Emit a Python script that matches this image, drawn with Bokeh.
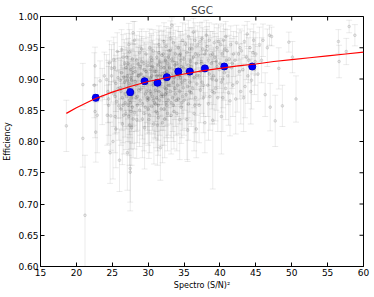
import numpy as np
from bokeh.plotting import figure
from bokeh.models import FixedTicker, NumeralTickFormatter
from bokeh.embed import file_html
from bokeh.resources import INLINE

title_text = "SGC"
x_label = "Spectro (S/N)²"
y_label = "Efficiency"
x_ticks = [15, 20, 25, 30, 35, 40, 45, 50, 55, 60]
y_ticks = [0.60, 0.65, 0.70, 0.75, 0.80, 0.85, 0.90, 0.95, 1.00]
x_min, x_max = 15, 60
y_min, y_max = 0.60, 1.00

# binned (blue) points
bin_x = [22.7, 27.5, 29.5, 31.3, 32.6, 34.2, 35.8, 37.9, 40.6, 44.5]
bin_y = [0.870, 0.879, 0.8965, 0.894, 0.903, 0.912, 0.912, 0.917, 0.920, 0.920]
bin_err = [0.005, 0.005, 0.004, 0.004, 0.004, 0.004, 0.004, 0.004, 0.004, 0.004]

# fit curve (red)
fit_x = [18.6, 20.0, 22.5, 25.0, 27.5, 30.0, 32.5, 35.0, 37.5, 40.0,
         42.5, 45.0, 47.5, 50.0, 52.5, 55.0, 57.5, 60.0]
fit_y = [0.845, 0.854, 0.868, 0.879, 0.888, 0.896, 0.902, 0.908, 0.913, 0.917,
         0.921, 0.924, 0.928, 0.931, 0.934, 0.937, 0.940, 0.943]

# individual plates (grey)
gray_x = [
    18.6, 20.9, 20.9, 21.2,
    22.5, 22.6, 22.6, 22.7, 22.9, 23.3, 23.6, 23.9,
    24.2, 24.4, 24.5, 24.6, 24.7, 24.8, 24.9, 24.5, 24.3, 24.9,
    25.1, 25.2, 25.3, 25.4, 25.5, 25.6, 25.7, 25.8, 25.9, 25.2, 25.5, 25.8, 26.0, 25.4,
    26.1, 26.2, 26.3, 26.4, 26.5, 26.6, 26.7, 26.8, 26.9, 26.2, 26.4, 26.6, 26.8, 26.3, 26.5, 26.7, 26.9, 26.1,
    27.0, 27.1, 27.1, 27.2, 27.2, 27.3, 27.3, 27.4, 27.4, 27.5,
    27.5, 27.5, 27.6, 27.6, 27.7, 27.7, 27.8, 27.8, 27.9, 27.9,
    27.0, 27.2, 27.4, 27.6, 27.8, 27.3, 27.5, 27.7, 27.1, 27.9,
    28.0, 28.1, 28.2, 28.3, 28.4, 28.5, 28.6, 28.7, 28.8, 28.9,
    28.0, 28.2, 28.4, 28.6, 28.8, 28.1, 28.3, 28.5, 28.7, 28.9,
    29.0, 29.1, 29.2, 29.3, 29.4, 29.5, 29.6, 29.7, 29.8, 29.9,
    29.0, 29.2, 29.4, 29.6, 29.8, 29.1, 29.3, 29.5, 29.7, 29.9,
    30.0, 30.1, 30.1, 30.2, 30.3, 30.3, 30.4, 30.5, 30.5, 30.6,
    30.7, 30.7, 30.8, 30.9, 30.9, 30.0, 30.2, 30.4, 30.6, 30.8, 30.1, 30.5, 30.7, 30.3,
    31.0, 31.1, 31.1, 31.2, 31.2, 31.3, 31.3, 31.4, 31.4, 31.5,
    31.5, 31.6, 31.6, 31.7, 31.7, 31.8, 31.8, 31.9, 31.9,
    31.0, 31.2, 31.4, 31.6, 31.8, 31.5, 31.3,
    32.0, 32.1, 32.1, 32.2, 32.2, 32.3, 32.3, 32.4, 32.4, 32.5,
    32.5, 32.6, 32.6, 32.7, 32.7, 32.8, 32.8, 32.9, 32.9,
    32.0, 32.2, 32.4, 32.6, 32.8, 32.5, 32.3,
    33.0, 33.1, 33.1, 33.2, 33.3, 33.3, 33.4, 33.5, 33.5, 33.6,
    33.7, 33.7, 33.8, 33.9, 33.9, 33.0, 33.2, 33.4, 33.6, 33.8, 33.1, 33.5, 33.7, 33.3,
    34.0, 34.1, 34.2, 34.2, 34.3, 34.4, 34.4, 34.5, 34.6, 34.6,
    34.7, 34.8, 34.8, 34.9, 34.0, 34.3, 34.5, 34.7, 34.9, 34.1, 34.6, 34.4,
    35.0, 35.1, 35.2, 35.3, 35.3, 35.4, 35.5, 35.6, 35.6, 35.7,
    35.8, 35.8, 35.9, 35.0, 35.2, 35.4, 35.6, 35.8, 35.5, 35.9,
    36.0, 36.1, 36.2, 36.3, 36.4, 36.5, 36.6, 36.7, 36.8, 36.9,
    36.0, 36.2, 36.4, 36.6, 36.8, 36.3, 36.5, 36.7,
    37.0, 37.1, 37.2, 37.3, 37.4, 37.5, 37.6, 37.7, 37.8, 37.9,
    37.1, 37.3, 37.5, 37.7, 37.9, 37.4,
    38.0, 38.1, 38.3, 38.4, 38.5, 38.6, 38.8, 38.9, 38.2, 38.4, 38.7, 38.5, 38.9, 38.1,
    39.0, 39.1, 39.2, 39.4, 39.5, 39.6, 39.7, 39.9, 39.3, 39.5, 39.8, 39.0, 39.6, 39.2,
    40.0, 40.1, 40.2, 40.3, 40.4, 40.5, 40.6, 40.7, 40.8, 40.9, 40.2, 40.5, 40.8, 40.4,
    41.0, 41.1, 41.3, 41.4, 41.5, 41.6, 41.8, 41.9, 41.2, 41.7,
    42.1, 42.3, 42.4, 42.6, 42.7, 42.9, 42.2, 42.8,
    43.0, 43.2, 43.4, 43.5, 43.7, 43.9, 43.3, 43.8,
    44.0, 44.2, 44.4, 44.6, 44.8, 44.3, 44.7, 44.9,
    45.0, 45.3, 45.5, 45.8, 46.0, 46.3, 46.6, 46.9,
    47.0, 47.2, 47.7, 48.2, 48.7, 49.6, 50.1, 50.6, 56.5, 56.6, 57.6, 58.0, 58.8,
]
gray_y = [
    0.825, 0.891, 0.805, 0.682,
    0.890, 0.921, 0.848, 0.815, 0.842, 0.897, 0.872, 0.905,
    0.899, 0.880, 0.858, 0.926, 0.782, 0.841, 0.905, 0.868, 0.842, 0.917,
    0.800, 0.876, 0.918, 0.840, 0.893, 0.864, 0.944, 0.885, 0.857, 0.931, 0.820, 0.902, 0.770, 0.872,
    0.886, 0.852, 0.910, 0.870, 0.935, 0.842, 0.895, 0.862, 0.918, 0.880, 0.828, 0.903, 0.876, 0.947, 0.858, 0.925, 0.845, 0.898,
    0.872, 0.782, 0.905, 0.858, 0.925, 0.840, 0.893, 0.866, 0.943, 0.751,
    0.880, 0.757, 0.915, 0.848, 0.898, 0.870, 0.932, 0.855, 0.910, 0.836,
    0.935, 0.886, 0.826, 0.902, 0.876, 0.955, 0.862, 0.822, 0.898, 0.974,
    0.918, 0.846, 0.896, 0.870, 0.930, 0.858, 0.905, 0.882, 0.942, 0.866,
    0.878, 0.912, 0.835, 0.924, 0.850, 0.962, 0.890, 0.872, 0.905, 0.920,
    0.884, 0.928, 0.860, 0.902, 0.845, 0.915, 0.876, 0.940, 0.892, 0.866,
    0.908, 0.836, 0.925, 0.855, 0.880, 0.948, 0.896, 0.822, 0.912, 0.870,
    0.925, 0.868, 0.898, 0.842, 0.915, 0.880, 0.935, 0.856, 0.905, 0.872,
    0.945, 0.890, 0.828, 0.912, 0.862, 0.852, 0.950, 0.876, 0.920, 0.895, 0.835, 0.930, 0.866, 0.902,
    0.882, 0.912, 0.848, 0.935, 0.870, 0.896, 0.826, 0.922, 0.858, 0.880,
    0.942, 0.866, 0.905, 0.790, 0.890, 0.918, 0.852, 0.876, 0.938,
    0.860, 0.905, 0.838, 0.928, 0.872, 0.955, 0.845,
    0.905, 0.872, 0.940, 0.852, 0.918, 0.886, 0.836, 0.930, 0.898, 0.862,
    0.952, 0.878, 0.912, 0.845, 0.925, 0.890, 0.866, 0.945, 0.900,
    0.830, 0.960, 0.876, 0.858, 0.935, 0.884, 0.910,
    0.918, 0.880, 0.946, 0.862, 0.905, 0.932, 0.870, 0.895, 0.958, 0.848,
    0.922, 0.885, 0.940, 0.866, 0.910, 0.890, 0.842, 0.928, 0.902, 0.876, 0.965, 0.858, 0.915, 0.986,
    0.925, 0.890, 0.950, 0.868, 0.912, 0.880, 0.938, 0.902, 0.855, 0.930,
    0.895, 0.962, 0.872, 0.918, 0.845, 0.905, 0.940, 0.862, 0.886, 0.908, 0.920, 0.835,
    0.932, 0.898, 0.956, 0.875, 0.915, 0.942, 0.888, 0.922, 0.860, 0.905,
    0.948, 0.880, 0.928, 0.866, 0.910, 0.835, 0.968, 0.895, 0.818, 0.912,
    0.920, 0.948, 0.885, 0.935, 0.902, 0.962, 0.870, 0.925, 0.892, 0.955,
    0.878, 0.912, 0.845, 0.940, 0.906, 0.975, 0.858, 0.820,
    0.938, 0.905, 0.960, 0.882, 0.928, 0.895, 0.948, 0.870, 0.918, 0.940,
    0.858, 0.912, 0.965, 0.890, 0.830, 0.925,
    0.915, 0.945, 0.890, 0.930, 0.962, 0.872, 0.925, 0.900, 0.952, 0.860, 0.938, 0.908, 0.880, 0.970,
    0.940, 0.905, 0.958, 0.885, 0.928, 0.950, 0.870, 0.915, 0.935, 0.898, 0.960, 0.834, 0.920, 0.878,
    0.925, 0.955, 0.895, 0.940, 0.870, 0.962, 0.910, 0.948, 0.885, 0.930, 0.840, 0.920, 0.968, 0.900,
    0.945, 0.905, 0.932, 0.865, 0.955, 0.918, 0.890, 0.940, 0.878, 0.925,
    0.930, 0.958, 0.895, 0.940, 0.912, 0.880, 0.868, 0.950,
    0.945, 0.915, 0.960, 0.888, 0.935, 0.905, 0.870, 0.972,
    0.930, 0.950, 0.898, 0.942, 0.915, 0.880, 0.962, 0.928,
    0.940, 0.908, 0.955, 0.930, 0.962, 0.875, 0.950, 0.970,
    0.855, 0.968, 0.833, 0.917, 0.857, 0.959, 0.935, 0.868, 0.960, 0.928, 0.944, 0.984, 0.970,
]
gray_err = [
    0.041, 0.034, 0.046, 0.096,
    0.052, 0.030, 0.042, 0.048, 0.060, 0.032, 0.045, 0.038,
    0.040, 0.050, 0.062, 0.035, 0.049, 0.055, 0.042, 0.058, 0.048, 0.038,
    0.060, 0.052, 0.040, 0.058, 0.045, 0.050, 0.030, 0.048, 0.055, 0.036, 0.062, 0.042, 0.050, 0.060,
    0.048, 0.058, 0.042, 0.052, 0.036, 0.062, 0.046, 0.055, 0.040, 0.050, 0.065, 0.044, 0.052, 0.032, 0.060, 0.038, 0.058, 0.046,
    0.052, 0.060, 0.045, 0.058, 0.040, 0.062, 0.050, 0.055, 0.036, 0.048,
    0.052, 0.068, 0.044, 0.060, 0.048, 0.054, 0.040, 0.058, 0.046, 0.062,
    0.038, 0.050, 0.064, 0.046, 0.052, 0.034, 0.056, 0.060, 0.048, 0.018,
    0.044, 0.058, 0.048, 0.054, 0.040, 0.060, 0.046, 0.050, 0.034, 0.056,
    0.052, 0.044, 0.062, 0.040, 0.058, 0.030, 0.048, 0.054, 0.046, 0.042,
    0.050, 0.040, 0.056, 0.046, 0.060, 0.044, 0.052, 0.036, 0.048, 0.054,
    0.046, 0.062, 0.040, 0.058, 0.050, 0.032, 0.048, 0.066, 0.044, 0.052,
    0.042, 0.054, 0.048, 0.060, 0.044, 0.052, 0.038, 0.058, 0.046, 0.054,
    0.034, 0.050, 0.064, 0.044, 0.056, 0.058, 0.030, 0.052, 0.042, 0.048, 0.062, 0.040, 0.054, 0.046,
    0.050, 0.044, 0.058, 0.040, 0.054, 0.048, 0.064, 0.042, 0.056, 0.052,
    0.036, 0.056, 0.046, 0.052, 0.050, 0.044, 0.058, 0.052, 0.038,
    0.056, 0.046, 0.060, 0.042, 0.054, 0.030, 0.060,
    0.046, 0.054, 0.038, 0.058, 0.044, 0.050, 0.062, 0.040, 0.048, 0.056,
    0.032, 0.052, 0.044, 0.060, 0.042, 0.050, 0.056, 0.036, 0.046,
    0.064, 0.030, 0.052, 0.058, 0.040, 0.050, 0.046,
    0.044, 0.052, 0.036, 0.056, 0.046, 0.040, 0.054, 0.048, 0.030, 0.060,
    0.042, 0.050, 0.038, 0.056, 0.044, 0.050, 0.062, 0.040, 0.046, 0.052, 0.028, 0.058, 0.044, 0.012,
    0.042, 0.050, 0.034, 0.056, 0.044, 0.052, 0.038, 0.046, 0.058, 0.040,
    0.050, 0.028, 0.054, 0.042, 0.060, 0.046, 0.036, 0.056, 0.050, 0.044, 0.040, 0.064,
    0.040, 0.048, 0.032, 0.054, 0.044, 0.036, 0.050, 0.042, 0.058, 0.046,
    0.034, 0.052, 0.040, 0.056, 0.044, 0.064, 0.026, 0.048, 0.050, 0.044,
    0.044, 0.034, 0.052, 0.040, 0.048, 0.028, 0.056, 0.042, 0.050, 0.030,
    0.054, 0.044, 0.060, 0.038, 0.046, 0.022, 0.058, 0.046,
    0.038, 0.046, 0.030, 0.052, 0.040, 0.050, 0.034, 0.056, 0.044, 0.036,
    0.060, 0.044, 0.026, 0.050, 0.048, 0.040,
    0.044, 0.034, 0.050, 0.040, 0.028, 0.054, 0.042, 0.048, 0.032, 0.058, 0.038, 0.046, 0.052, 0.024,
    0.036, 0.046, 0.030, 0.052, 0.040, 0.032, 0.054, 0.044, 0.038, 0.048, 0.028, 0.110, 0.042, 0.050,
    0.040, 0.030, 0.048, 0.036, 0.054, 0.026, 0.044, 0.032, 0.050, 0.038, 0.060, 0.042, 0.024, 0.046,
    0.034, 0.046, 0.038, 0.056, 0.030, 0.042, 0.050, 0.036, 0.052, 0.040,
    0.038, 0.028, 0.048, 0.034, 0.044, 0.052, 0.056, 0.030,
    0.032, 0.042, 0.026, 0.050, 0.036, 0.044, 0.054, 0.020,
    0.036, 0.030, 0.046, 0.034, 0.040, 0.052, 0.026, 0.038,
    0.034, 0.044, 0.028, 0.036, 0.026, 0.035, 0.030, 0.016,
    0.038, 0.015, 0.041, 0.033, 0.033, 0.016, 0.025, 0.037, 0.019, 0.026, 0.021, 0.010, 0.017,
]

FONT = "DejaVu Sans"

p = figure(width=374, height=297, x_range=(x_min, x_max), y_range=(y_min, y_max),
           output_backend="svg", toolbar_location=None, title=title_text,
           min_border_left=39, min_border_right=11, min_border_top=16, min_border_bottom=31,
           x_axis_label=x_label, y_axis_label=y_label)
p.background_fill_color = "white"
p.border_fill_color = "white"
p.outline_line_color = "black"
p.outline_line_width = 1
p.outline_line_alpha = 1
p.grid.visible = False

p.title.align = "center"
p.title.text_font = FONT
p.title.text_font_size = "10.5px"
p.title.text_font_style = "normal"
p.title.standoff = 1

p.xaxis.ticker = FixedTicker(ticks=x_ticks)
p.yaxis.ticker = FixedTicker(ticks=y_ticks)
p.xaxis.formatter = NumeralTickFormatter(format="0")
p.yaxis.formatter = NumeralTickFormatter(format="0.00")

for ax in (p.xaxis[0], p.yaxis[0]):
    ax.major_tick_in = 4
    ax.major_tick_out = 0
    ax.minor_tick_line_color = None
    ax.axis_line_color = "black"
    ax.major_tick_line_color = "black"
    ax.major_label_text_font = FONT
    ax.major_label_text_font_size = "9px"
    ax.major_label_text_color = "black"
    ax.major_label_standoff = 2
    ax.axis_label_text_font = FONT
    ax.axis_label_text_font_size = "8px"
    ax.axis_label_text_font_style = "normal"
    ax.axis_label_text_color = "black"
p.xaxis[0].axis_label_standoff = 2
p.yaxis[0].axis_label_standoff = 3

gx = np.array(gray_x)
gy = np.array(gray_y)
ge = np.array(gray_err)

p.segment(gx, gy - ge, gx, gy + ge, line_color="black", line_alpha=0.08, line_width=1)
p.scatter(gx, gy - ge, marker="dash", size=6, line_color="black", line_alpha=0.08)
p.scatter(gx, gy + ge, marker="dash", size=6, line_color="black", line_alpha=0.08)
p.scatter(gx, gy, marker="circle", size=2.8, fill_color="black", fill_alpha=0.08,
          line_color="black", line_alpha=0.1)

bx = np.array(bin_x)
by = np.array(bin_y)
be = np.array(bin_err)
p.segment(bx, by - be, bx, by + be, line_color="#0000ff", line_alpha=0.5, line_width=1)
p.scatter(bx, by - be, marker="dash", size=6, line_color="#0000ff", line_alpha=0.5, line_width=1)
p.scatter(bx, by + be, marker="dash", size=6, line_color="#0000ff", line_alpha=0.5, line_width=1)
p.scatter(bx, by, marker="circle", size=7, fill_color="#0000ff", line_color="#0000cc")

p.line(fit_x, fit_y, line_color="#ff0000", line_width=1.2)

# inward ticks on the top and right edges of the frame (half of each mark is clipped)
xt = np.array(x_ticks, dtype=float)
yt = np.array(y_ticks, dtype=float)
p.scatter(xt, np.full(len(xt), y_max), marker="dash", angle=np.pi / 2, size=8,
          line_color="black", line_width=1)
p.scatter(np.full(len(yt), x_max), yt, marker="dash", size=8,
          line_color="black", line_width=1)

open("out.html", "w").write(file_html(p, INLINE))
